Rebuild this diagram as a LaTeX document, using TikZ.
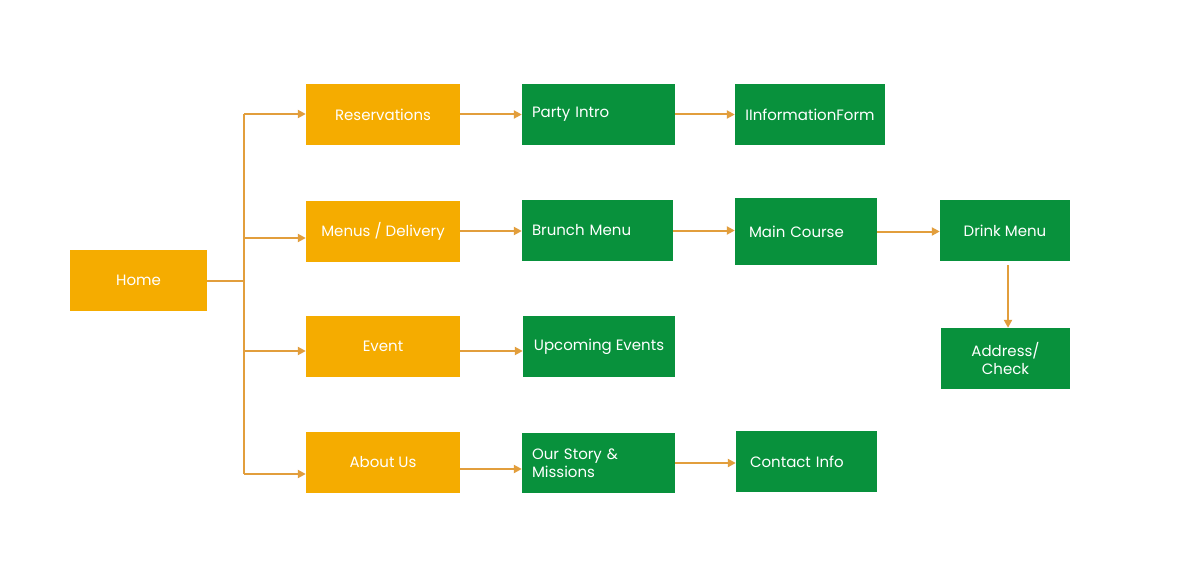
\documentclass[tikz,border=0pt]{standalone}
\usepackage{fontspec}
\setmainfont{Poppins}
\usetikzlibrary{arrows.meta}
\definecolor{obox}{RGB}{245,172,0}
\definecolor{gbox}{RGB}{8,145,60}
\definecolor{conn}{RGB}{226,158,60}
\tikzset{
  base/.style={rectangle, text=white, minimum height=61pt, inner ysep=0pt, font=\fontsize{15}{17.5}\selectfont},
  ob/.style={base, fill=obox, minimum width=154pt, inner xsep=0pt},
  gc/.style={base, fill=gbox, inner xsep=0pt},
  gl/.style={base, fill=gbox, align=left},
  line/.style={draw=conn, line width=2pt},
  arr/.style={line, -{Triangle[length=8pt,width=8pt]}}
}
\begin{document}
\begin{tikzpicture}[x=1pt,y=-1pt]
\useasboundingbox (0,0) rectangle (1190,580);
\fill[white] (0,0) rectangle (1190,580);
% first level
\node[ob, minimum width=137pt] (home) at (138.5,280.5) {Home};
\node[ob] (res) at (383,114.5) {Reservations};
\node[ob] (menu) at (383,231) {Menus / Delivery};
\node[ob] (event) at (383,346.5) {Event};
\node[ob] (about) at (383,462.5) {About Us};
% second level
\node[gl, text width=133pt, inner xsep=10pt] (party) at (598.5,114.5) {Party Intro};
\node[gc, minimum width=150pt] (info) at (810,114.5) {IInformationForm};
\node[gl, text width=131pt, inner xsep=10pt] (brunch) at (597.5,230.5) {Brunch Menu};
\node[gl, text width=114pt, inner xsep=14pt, minimum height=67pt] (main) at (806,231.5) {Main Course};
\node[gc, minimum width=130pt] (drink) at (1005,230.5) {Drink Menu};
\node[gc, minimum width=129pt, align=center] (addr) at (1005.5,358.5) {Address/\\Check};
\node[gc, minimum width=152pt] (upc) at (599,346.5) {Upcoming Events};
\node[gl, text width=133pt, inner xsep=10pt, minimum height=60pt] (story) at (598.5,463) {Our Story \&\\Missions};
\node[gl, text width=113pt, inner xsep=14pt] (contact) at (806.5,461.5) {Contact Info};
% trunk
\coordinate (j) at (244,281);
\coordinate (t1) at (244,114);
\coordinate (t2) at (244,238);
\coordinate (t3) at (244,351);
\coordinate (t4) at (244,474);
\coordinate (a4) at (460,469);
\coordinate (d1) at (1008,265);
\draw[line] (home.east|-j) -- (j);
\draw[line] (t1) -- (t4);
\draw[arr] (t1) -- (res.west|-t1);
\draw[arr] (t2) -- (menu.west|-t2);
\draw[arr] (t3) -- (event.west|-t3);
\draw[arr] (t4) -- (about.west|-t4);
% horizontal arrows
\draw[arr] (res.east) -- (party.west|-res.east);
\draw[arr] (party.east|-res.east) -- (info.west|-res.east);
\draw[arr] (menu.east) -- (brunch.west|-menu.east);
\draw[arr] (brunch.east) -- (main.west|-brunch.east);
\draw[arr] (main.east) -- (drink.west|-main.east);
\draw[arr] (event.east|-t3) -- (upc.west|-t3);
\draw[arr] (a4) -- (story.west|-a4);
\draw[arr] (story.east) -- (contact.west|-story.east);
\draw[arr] (d1) -- (addr.north-|d1);
\end{tikzpicture}
\end{document}
